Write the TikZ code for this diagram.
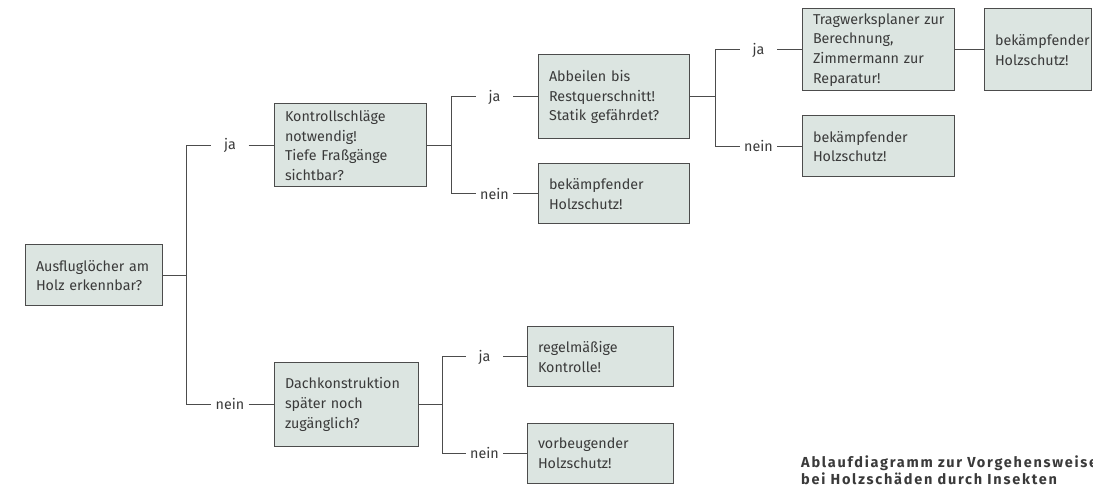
\documentclass[tikz,border=0pt]{standalone}
\usepackage{fontspec}
\setmainfont{Fira Sans}
\newfontfamily\capfont[LetterSpace=12]{Fira Sans}
\definecolor{boxfill}{HTML}{DCE5E1}
\definecolor{linec}{HTML}{4C4C4C}
\definecolor{textc}{HTML}{3A3A3A}
\hfuzz=20pt
\begin{document}
\begin{tikzpicture}[x=1pt,y=-1pt,
  conn/.style={draw=linec, line width=1pt},
  box/.style={draw=linec, fill=boxfill, line width=1pt, align=left,
    inner xsep=11pt, inner ysep=0pt, text=textc,
    font=\fontsize{14.3}{19.8}\selectfont},
  lab/.style={minimum width=37pt, inner sep=0pt, text=textc,
    font=\fontsize{14.3}{16}\selectfont},
  captext/.style={anchor=north west, align=left, inner sep=0pt, text=textc,
    font=\capfont\fontsize{14.5}{17}\selectfont\bfseries}]
\clip (0,0) rectangle (1093,486);
\fill[white] (0,0) rectangle (1093,486);
% boxes
\node[box, text width=115pt, minimum height=61pt] (b1) at (93.5,275.5) {Ausfluglöcher~am\\Holz~erkennbar?};
\node[box, text width=130pt, minimum height=83pt] (b2) at (350,145.5) {Kontrollschläge\\notwendig!\\Tiefe~Fraßgänge\\sichtbar?};
\node[box, text width=129pt, minimum height=84pt] (b3) at (613.5,97) {Abbeilen~bis\\Restquerschnitt!\\Statik~gefährdet?};
\node[box, text width=129pt, minimum height=60pt] (b4) at (613.5,194) {bekämpfender\\Holzschutz!};
\node[box, text width=130pt, minimum height=82pt] (b5) at (878,50) {Tragwerksplaner~zur\\Berechnung,\\Zimmermann~zur\\Reparatur!};
\node[box, text width=85pt, minimum height=82pt] (b6) at (1037.5,50) {bekämpfender\\Holzschutz!};
\node[box, text width=130pt, minimum height=61pt] (b7) at (878,146.5) {bekämpfender\\Holzschutz!};
\node[box, text width=122pt, minimum height=83pt] (b8) at (346,404.5) {Dachkonstruktion\\später~noch\\zugänglich?};
\node[box, text width=124pt, minimum height=60pt] (b9) at (600,357) {regelmäßige\\Kontrolle!};
\node[box, text width=124pt, minimum height=60pt] (b10) at (600,453) {vorbeugender\\Holzschutz!};
% bus coordinates
\coordinate (s1m) at (186,275.5);
\coordinate (s1t) at (186,145.5);
\coordinate (s1b) at (186,404.5);
\coordinate (s2m) at (451,145.5);
\coordinate (s2t) at (451,97);
\coordinate (s2b) at (451,194);
\coordinate (s3m) at (715,97);
\coordinate (s3t) at (715,50);
\coordinate (s3b) at (715,146.5);
\coordinate (s4m) at (442,404.5);
\coordinate (s4t) at (442,357);
\coordinate (s4b) at (442,453);
% labels
\node[lab] (l1) at (230,145.5) {ja};
\node[lab] (l2) at (230,404.5) {nein};
\node[lab] (l3) at (494.5,97) {ja};
\node[lab] (l4) at (494.5,194) {nein};
\node[lab] (l5) at (758.5,50) {ja};
\node[lab] (l6) at (758.5,146.5) {nein};
\node[lab] (l7) at (484.5,357) {ja};
\node[lab] (l8) at (484.5,453) {nein};
% connectors
\draw[conn] (b1.east) -- (s1m);
\draw[conn] (s1t) -- (s1b);
\draw[conn] (s1t) -- (l1.west); \draw[conn] (l1.east) -- (b2.west);
\draw[conn] (s1b) -- (l2.west); \draw[conn] (l2.east) -- (b8.west);
\draw[conn] (b2.east) -- (s2m);
\draw[conn] (s2t) -- (s2b);
\draw[conn] (s2t) -- (l3.west); \draw[conn] (l3.east) -- (b3.west);
\draw[conn] (s2b) -- (l4.west); \draw[conn] (l4.east) -- (b4.west);
\draw[conn] (b3.east) -- (s3m);
\draw[conn] (s3t) -- (s3b);
\draw[conn] (s3t) -- (l5.west); \draw[conn] (l5.east) -- (b5.west);
\draw[conn] (s3b) -- (l6.west); \draw[conn] (l6.east) -- (b7.west);
\draw[conn] (b5.east) -- (b6.west);
\draw[conn] (b8.east) -- (s4m);
\draw[conn] (s4t) -- (s4b);
\draw[conn] (s4t) -- (l7.west); \draw[conn] (l7.east) -- (b9.west);
\draw[conn] (s4b) -- (l8.west); \draw[conn] (l8.east) -- (b10.west);
% caption
\node[captext] (c1) at (801,455.5) {Ablaufdiagramm zur Vorgehensweise\\bei Holzschäden durch Insekten};
\end{tikzpicture}
\end{document}
